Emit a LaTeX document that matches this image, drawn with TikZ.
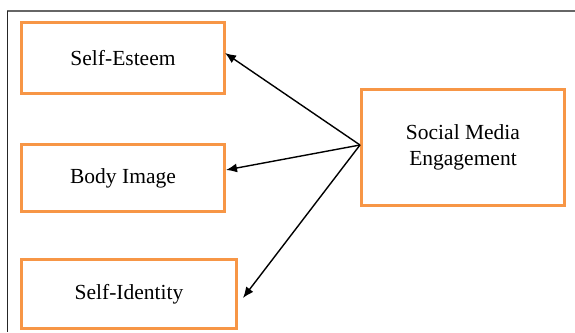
\documentclass[tikz,border=0pt]{standalone}
\usepackage{fontspec}
\setmainfont{Liberation Serif}
\usetikzlibrary{arrows.meta}
\definecolor{boxorange}{HTML}{F79646}
\begin{document}
\begin{tikzpicture}[x=1pt,y=-1pt,
  box/.style={draw=boxorange,line width=3pt,rectangle,inner sep=0pt,align=center,
    font=\fontsize{21.5}{26}\selectfont},
  link/.style={line width=1.4pt,-{Latex[length=11pt,width=9pt]}}]
\useasboundingbox (0,0) rectangle (575,332);
\fill[white] (0,0) rectangle (575,332);
\draw[gray!80!black,line width=1.4pt] (7,11) -- (575,11);
\draw[black!85,line width=1pt] (7,11) -- (7,332);
\node[box,minimum width=203pt,minimum height=71pt] (se) at (123,58) {Self-Esteem};
\node[box,minimum width=203pt,minimum height=67pt] (bi) at (123,178) {Body Image};
\node[box,minimum width=215pt,minimum height=69pt] (sid) at (129,294) {Self-Identity};
\node[box,minimum width=203pt,minimum height=116pt] (sm) at (463,147.5) {\raisebox{-3pt}{\parbox{190pt}{\centering Social Media\\Engagement}}};
\coordinate (o) at (360,145);
\coordinate (t1) at (225,53);
\coordinate (t2) at (226,170);
\coordinate (t3) at (243,298);
\draw[link] (o) -- (t1);
\draw[link] (o) -- (t2);
\draw[link] (o) -- (t3);
\end{tikzpicture}
\end{document}
